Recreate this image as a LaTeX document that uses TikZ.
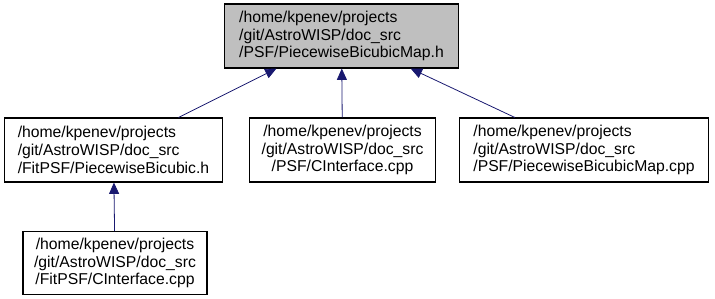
\documentclass[tikz,border=0pt]{standalone}
\usepackage{fontspec}
\setmainfont{Liberation Sans}
\usetikzlibrary{arrows.meta}
\definecolor{edgeblue}{HTML}{191970}
\definecolor{headgray}{HTML}{BFBFBF}

\tikzset{
  file/.style={draw=black,thick,inner sep=0pt,minimum height=48pt,font=\fontsize{11.8pt}{13.3pt}\selectfont},
  dep/.style={draw=edgeblue,semithick,{Triangle[length=8.5pt,width=7.5pt]}-}
}

\begin{document}
\begin{tikzpicture}[x=0.75pt,y=-0.75pt]
  \useasboundingbox (0,0) rectangle (715,299);
  % the header and the files that include it
  \node[file,fill=headgray,minimum width=176pt,align=left] (map) at (341.5,36)
    {/home/kpenev/projects\\/git/AstroWISP/doc\_src\\/PSF/PiecewiseBicubicMap.h};
  \node[file,minimum width=163pt,align=left] (bicubic) at (113.5,150)
    {/home/kpenev/projects\\/git/AstroWISP/doc\_src\\/FitPSF/PiecewiseBicubic.h};
  \node[file,minimum width=140pt,align=center] (psfci) at (342.5,150)
    {/home/kpenev/projects\\/git/AstroWISP/doc\_src\\/PSF/CInterface.cpp};
  \node[file,minimum width=187pt,align=left] (mapcpp) at (584,150)
    {/home/kpenev/projects\\/git/AstroWISP/doc\_src\\/PSF/PiecewiseBicubicMap.cpp};
  \node[file,minimum width=138pt,minimum height=47pt,align=center] (fitci) at (115,263)
    {/home/kpenev/projects\\/git/AstroWISP/doc\_src\\/FitPSF/CInterface.cpp};
  % include edges
  \draw[dep] (map) -- (bicubic);
  \draw[dep] (map) -- (psfci);
  \draw[dep] (map) -- (mapcpp);
  \draw[dep] (bicubic) -- (fitci);
\end{tikzpicture}
\end{document}
